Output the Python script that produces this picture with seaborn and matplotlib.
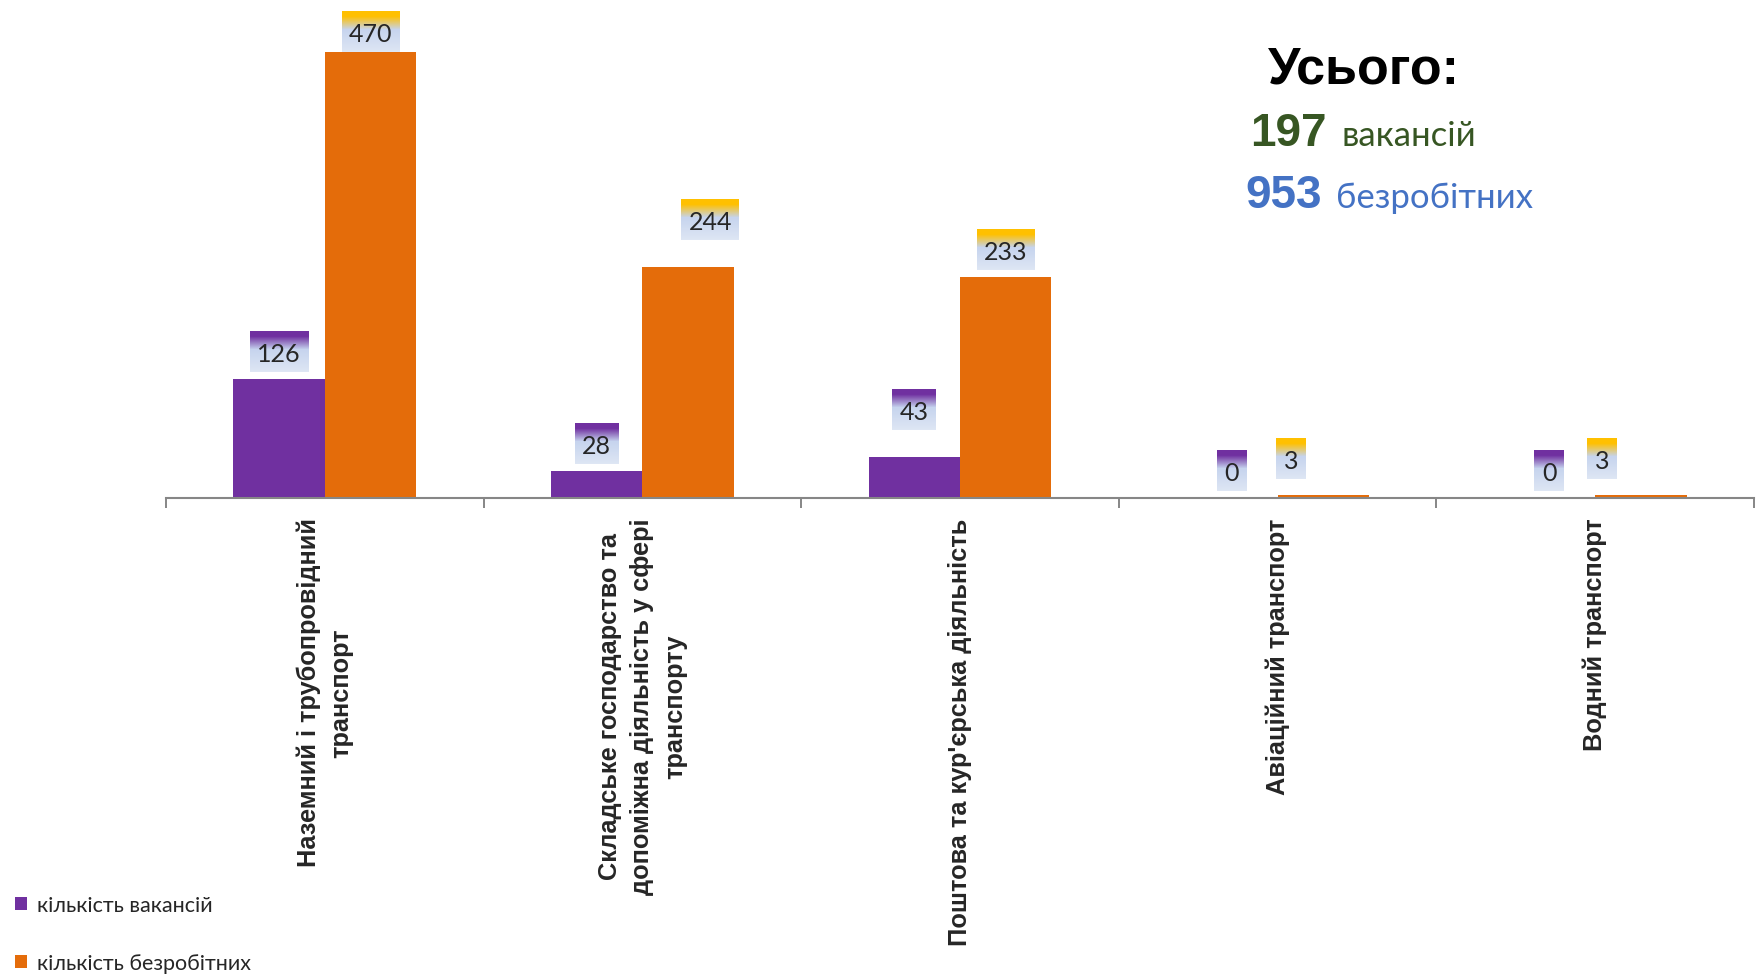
import numpy as np
import pandas as pd
import matplotlib
matplotlib.use("Agg")
import matplotlib.pyplot as plt
from matplotlib.colors import to_rgb
import seaborn as sns


categories = [
    "Наземний і трубопровідний транспорт",
    "Складське господарство та допоміжна діяльність у сфері транспорту",
    "Поштова та кур'єрська діяльність",
    "Авіаційний транспорт",
    "Водний транспорт",
]
tick_labels = [
    "Наземний і трубопровідний\nтранспорт",
    "Складське господарство та\nдопоміжна діяльність у сфері\nтранспорту",
    "Поштова та кур'єрська діяльність",
    "Авіаційний транспорт",
    "Водний транспорт",
]
series_names = ["кількість вакансій", "кількість безробітних"]
vacancies = [126, 28, 43, 0, 0]
unemployed = [470, 244, 233, 3, 3]
total_vacancies = 197
total_unemployed = 953

W, H = 1760, 978
PURPLE = "#7030A0"
ORANGE = "#E46C0A"
GOLD = "#FFC000"
GRAY = "#868686"
GREEN = "#375623"
BLUE = "#4472C4"

# hand-placed value boxes in the original slide: pixel nudges (dx, dy) per series
box_nudge = [
    [(0, 0), (0, 0), (0, 20), (0, 0), (0, 0)],
    [(0, -7), (22, 20), (0, 0), (-32, 9), (-39, 9)],
]


def gradient(w, h, top):
    stops = [(0.0, top), (0.12, top), (0.45, "#C6D4EE"), (1.0, "#DEE6F4")]
    t = np.linspace(0, 1, h)
    pos = [s[0] for s in stops]
    cols = np.array([to_rgb(s[1]) for s in stops])
    rgb = np.stack([np.interp(t, pos, cols[:, k]) for k in range(3)], axis=1)
    return np.repeat(rgb[:, None, :], w, axis=1)


sns.set_style("white")
plt.rcParams["font.family"] = ["Liberation Sans", "DejaVu Sans"]

df = pd.DataFrame({
    "category": categories * 2,
    "series": [series_names[0]] * len(categories) + [series_names[1]] * len(categories),
    "value": vacancies + unemployed,
})

fig = plt.figure(figsize=(W / 100, H / 100), dpi=100)
ax = fig.add_axes([166 / W, 479 / H, 1588 / W, 493 / H])

sns.barplot(
    data=df, x="category", y="value", hue="series",
    order=categories, hue_order=series_names,
    palette=[PURPLE, ORANGE], width=0.576, saturation=1,
    linewidth=0, ax=ax,
)

ax.set_xlim(-0.5, len(categories) - 0.5)
ax.set_ylim(0, 520)
ax.set_xlabel("")
ax.set_ylabel("")
ax.set_yticks([])
sns.despine(ax=ax, left=True)
ax.spines["bottom"].set_color(GRAY)
ax.spines["bottom"].set_linewidth(1.5)

ax.set_xticks(range(len(categories)))
ax.set_xticklabels(tick_labels, rotation=90, fontsize=18.3, fontweight="bold",
                   linespacing=1.45, ha="center", va="top")
ax.set_xticks(np.arange(-0.5, len(categories)), minor=True)
ax.tick_params(axis="x", which="major", length=0, pad=14)
ax.tick_params(axis="x", which="minor", length=7.2, width=1.4, color=GRAY,
               direction="out", bottom=True)

handles, labels = ax.get_legend_handles_labels()
ax.legend(handles, labels, loc="center left",
          bbox_to_anchor=(15 / W, 43 / H), bbox_transform=fig.transFigure,
          frameon=False, prop=dict(family="Lato", size=15.5),
          handlelength=0.55, handleheight=0.55, handletextpad=0.45,
          labelspacing=1.75, borderpad=0, borderaxespad=0)

# value boxes with gradient fill
fig.canvas.draw()
renderer = fig.canvas.get_renderer()
values = [vacancies, unemployed]
for bar in ax.patches:
    if abs(bar.get_width() - 0.288) > 0.01:
        continue
    cx_data = bar.get_x() + bar.get_width() / 2
    ci = int(round(cx_data))
    si = 0 if cx_data < ci else 1
    val = values[si][ci]
    x0, y0 = ax.transData.transform((cx_data, bar.get_height()))
    dx, dy = box_nudge[si][ci]
    cx = x0 + dx
    bottom = y0 + 7 + dy
    txt = fig.text(0, 0, str(val), fontsize=18, family="Lato",
                   ha="center", va="baseline", zorder=6)
    tw = txt.get_window_extent(renderer).width
    bw = int(round(tw + 15))
    bh = 41
    img = gradient(bw, bh, [PURPLE, GOLD][si])
    fig.figimage(img, xo=int(round(cx - bw / 2)), yo=int(round(bottom)),
                 zorder=5, origin="upper")
    txt.set_position((cx / W, (bottom + 11) / H))

# totals block
fig.text(1364 / W, 1 - 83 / H, "Усього:", ha="center", va="baseline",
         fontsize=37.5, fontweight="bold", color="black")
fig.text(1250 / W, 1 - 146 / H, str(total_vacancies), ha="left", va="baseline",
         fontsize=33, fontweight="bold", color=GREEN)
fig.text(1342 / W, 1 - 146 / H, "вакансій", ha="left", va="baseline",
         fontsize=25, family="Lato", color=GREEN)
fig.text(1245 / W, 1 - 208 / H, str(total_unemployed), ha="left", va="baseline",
         fontsize=33, fontweight="bold", color=BLUE)
fig.text(1336 / W, 1 - 208 / H, "безробітних", ha="left", va="baseline",
         fontsize=25, family="Lato", color=BLUE)

fig.savefig("out.png", dpi=100)
plt.close(fig)
